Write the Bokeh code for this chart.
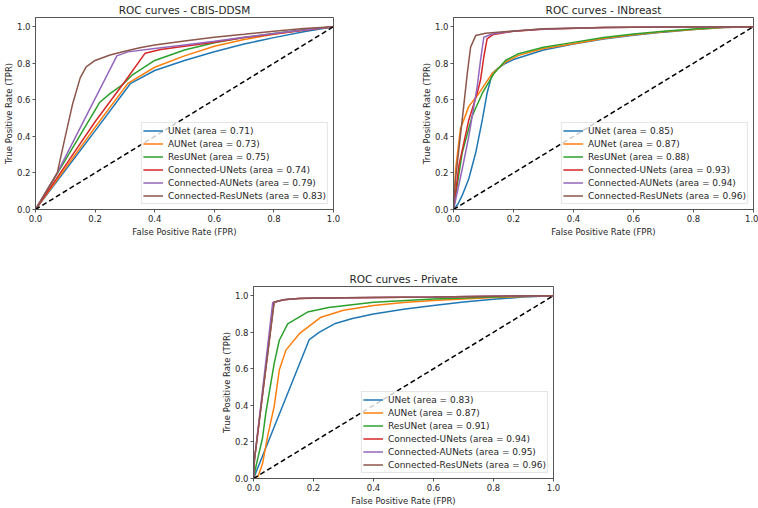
from bokeh.plotting import figure
from bokeh.layouts import column, row
from bokeh.models import Spacer, Legend, LegendItem, Range1d, FixedTicker, PrintfTickFormatter
from bokeh.embed import file_html
from bokeh.resources import INLINE

MODELS = ["UNet", "AUNet", "ResUNet", "Connected-UNets", "Connected-AUNets", "Connected-ResUNets"]
COLORS = ["#1f77b4", "#ff7f0e", "#2ca02c", "#d62728", "#9467bd", "#8c564b"]
TICKS = [0.0, 0.2, 0.4, 0.6, 0.8, 1.0]

# ---------------- CBIS-DDSM ----------------
cbis_auc = [0.71, 0.73, 0.75, 0.74, 0.79, 0.83]
cbis_unet_fpr = [0, 0.1, 0.2, 0.318, 0.4, 0.5, 0.6, 0.7, 0.8, 0.9, 1.0]
cbis_unet_tpr = [0, 0.215, 0.43, 0.688, 0.76, 0.815, 0.863, 0.905, 0.94, 0.972, 1.0]
cbis_aunet_fpr = [0, 0.1, 0.2, 0.31, 0.4, 0.5, 0.6, 0.7, 0.8, 0.9, 1.0]
cbis_aunet_tpr = [0, 0.225, 0.45, 0.69, 0.778, 0.84, 0.893, 0.93, 0.958, 0.982, 1.0]
cbis_resunet_fpr = [0, 0.1, 0.215, 0.25, 0.29, 0.323, 0.4, 0.5, 0.6, 0.7, 0.8, 0.9, 1.0]
cbis_resunet_tpr = [0, 0.27, 0.585, 0.634, 0.68, 0.733, 0.815, 0.872, 0.912, 0.94, 0.963, 0.983, 1.0]
cbis_cunets_fpr = [0, 0.1, 0.2, 0.3, 0.368, 0.42, 0.5, 0.6, 0.7, 0.8, 0.9, 1.0]
cbis_cunets_tpr = [0, 0.24, 0.48, 0.70, 0.855, 0.875, 0.893, 0.915, 0.94, 0.96, 0.98, 1.0]
cbis_caunets_fpr = [0, 0.073, 0.273, 0.31, 0.4, 0.5, 0.6, 0.7, 0.8, 0.9, 1.0]
cbis_caunets_tpr = [0, 0.2, 0.84, 0.862, 0.88, 0.9, 0.92, 0.942, 0.962, 0.982, 1.0]
cbis_cresunets_fpr = [0, 0.073, 0.1, 0.125, 0.15, 0.17, 0.2, 0.25, 0.3, 0.35, 0.4, 0.5, 0.6, 0.7, 0.8, 0.9, 1.0]
cbis_cresunets_tpr = [0, 0.2, 0.4, 0.58, 0.72, 0.78, 0.815, 0.845, 0.865, 0.885, 0.9, 0.922, 0.942, 0.958, 0.975, 0.99, 1.0]

# ---------------- INbreast ----------------
inb_auc = [0.85, 0.87, 0.88, 0.93, 0.94, 0.96]
inb_unet_fpr = [0, 0.015, 0.029, 0.051, 0.074, 0.096, 0.112, 0.129, 0.15, 0.174, 0.2, 0.3, 0.4, 0.5, 0.6, 0.7, 0.8, 0.9, 1.0]
inb_unet_tpr = [0, 0.03, 0.077, 0.168, 0.31, 0.49, 0.636, 0.744, 0.775, 0.80, 0.82, 0.872, 0.905, 0.932, 0.953, 0.97, 0.984, 0.995, 1.0]
inb_aunet_fpr = [0, 0.007, 0.023, 0.051, 0.085, 0.129, 0.174, 0.217, 0.3, 0.4, 0.5, 0.6, 0.7, 0.8, 0.9, 1.0]
inb_aunet_tpr = [0, 0.22, 0.44, 0.564, 0.636, 0.744, 0.807, 0.843, 0.88, 0.907, 0.935, 0.955, 0.972, 0.985, 0.995, 1.0]
inb_resunet_fpr = [0, 0.029, 0.062, 0.096, 0.135, 0.174, 0.217, 0.3, 0.4, 0.5, 0.6, 0.7, 0.8, 0.9, 1.0]
inb_resunet_tpr = [0, 0.31, 0.51, 0.636, 0.744, 0.816, 0.852, 0.887, 0.914, 0.94, 0.96, 0.975, 0.987, 0.996, 1.0]
inb_cunets_fpr = [0, 0.018, 0.051, 0.079, 0.09, 0.101, 0.112, 0.13, 0.2, 0.3, 0.5, 0.7, 1.0]
inb_cunets_tpr = [0, 0.24, 0.49, 0.636, 0.708, 0.834, 0.933, 0.955, 0.975, 0.986, 0.995, 0.998, 1.0]
inb_caunets_fpr = [0, 0.029, 0.051, 0.079, 0.09, 0.101, 0.129, 0.2, 0.3, 0.5, 0.7, 1.0]
inb_caunets_tpr = [0, 0.22, 0.40, 0.672, 0.816, 0.942, 0.96, 0.976, 0.987, 0.995, 0.998, 1.0]
inb_cresunets_fpr = [0, 0.007, 0.029, 0.046, 0.057, 0.074, 0.107, 0.217, 0.3, 0.5, 0.7, 1.0]
inb_cresunets_tpr = [0, 0.17, 0.49, 0.744, 0.888, 0.951, 0.964, 0.978, 0.988, 0.995, 0.998, 1.0]

# ---------------- Private ----------------
prv_auc = [0.83, 0.87, 0.91, 0.94, 0.95, 0.96]
prv_unet_fpr = [0, 0.186, 0.22, 0.27, 0.33, 0.4, 0.5, 0.6, 0.7, 0.8, 0.9, 1.0]
prv_unet_tpr = [0, 0.76, 0.8, 0.846, 0.875, 0.9, 0.925, 0.946, 0.965, 0.98, 0.992, 1.0]
prv_aunet_fpr = [0, 0.015, 0.03, 0.047, 0.069, 0.086, 0.108, 0.153, 0.225, 0.3, 0.4, 0.5, 0.6, 0.8, 1.0]
prv_aunet_tpr = [0, 0.01, 0.08, 0.23, 0.394, 0.593, 0.702, 0.792, 0.882, 0.92, 0.946, 0.962, 0.973, 0.99, 1.0]
prv_resunet_fpr = [0, 0.01, 0.03, 0.041, 0.069, 0.086, 0.114, 0.18, 0.25, 0.4, 0.6, 0.8, 1.0]
prv_resunet_tpr = [0, 0.08, 0.22, 0.358, 0.63, 0.756, 0.846, 0.91, 0.935, 0.964, 0.982, 0.993, 1.0]
prv_cunets_fpr = [0, 0.003, 0.068, 0.1, 0.15, 0.2, 0.4, 0.6, 0.8, 1.0]
prv_cunets_tpr = [0, 0.1, 0.962, 0.977, 0.984, 0.986, 0.99, 0.993, 0.997, 1.0]
prv_caunets_fpr = [0, 0.003, 0.064, 0.1, 0.15, 0.2, 0.4, 0.6, 0.8, 1.0]
prv_caunets_tpr = [0, 0.1, 0.962, 0.978, 0.985, 0.987, 0.99, 0.993, 0.997, 1.0]
prv_cresunets_fpr = [0, 0.003, 0.069, 0.1, 0.15, 0.2, 0.4, 0.6, 0.8, 1.0]
prv_cresunets_tpr = [0, 0.1, 0.965, 0.978, 0.985, 0.987, 0.99, 0.993, 0.997, 1.0]

FONT = "DejaVu Sans"
TXT = "#262626"
SPINE = "#555555"


def make(title, curves, aucs, width, height, bl, br, bt, bb):
    p = figure(width=width, height=height, x_range=Range1d(0, 1), y_range=Range1d(0, 1.05),
               output_backend="svg", toolbar_location=None, title=title,
               min_border_left=bl, min_border_right=br, min_border_top=bt, min_border_bottom=bb)
    p.title.text_font = FONT
    p.title.text_font_size = "10.5px"
    p.title.text_font_style = "normal"
    p.title.text_color = TXT
    p.title.align = "center"
    p.title.standoff = 3
    p.title.offset = 0
    p.grid.visible = False
    p.outline_line_color = SPINE
    p.outline_line_width = 1
    p.outline_line_alpha = 1
    p.background_fill_color = "white"
    p.border_fill_color = "white"
    for ax in (p.xaxis[0], p.yaxis[0]):
        ax.ticker = FixedTicker(ticks=TICKS)
        ax.formatter = PrintfTickFormatter(format="%.1f")
        ax.major_label_text_font = FONT
        ax.major_label_text_font_size = "8.5px"
        ax.major_label_text_color = TXT
        ax.axis_label_text_font = FONT
        ax.axis_label_text_font_size = "8.5px"
        ax.axis_label_text_font_style = "normal"
        ax.axis_label_text_color = TXT
        ax.axis_line_color = SPINE
        ax.major_tick_line_color = SPINE
        ax.major_tick_out = 3
        ax.major_tick_in = 0
        ax.minor_tick_line_color = None
        ax.major_label_standoff = 2
        ax.axis_label_standoff = 2
    p.yaxis[0].axis_label_standoff = 0
    p.xaxis[0].axis_label = "False Positive Rate (FPR)"
    p.yaxis[0].axis_label = "True Positive Rate (TPR)"

    items = []
    for i, (fx, ty) in enumerate(curves):
        r = p.line(fx, ty, line_color=COLORS[i], line_width=1.5)
        items.append(LegendItem(label=f"{MODELS[i]} (area = {aucs[i]:.2f})", renderers=[r]))
    p.line([0, 1], [0, 1], line_color="black", line_dash="5 3", line_width=1.5)

    legend = Legend(items=items, location="bottom_right", margin=5, padding=1, spacing=0,
                    label_height=13, glyph_height=13, glyph_width=20, label_standoff=5,
                    label_text_font=FONT, label_text_font_size="9px", label_text_color=TXT,
                    border_line_color="#cccccc", border_line_width=1,
                    background_fill_color="white", background_fill_alpha=0.8)
    p.add_layout(legend)
    return p


p1 = make("ROC curves - CBIS-DDSM",
          [(cbis_unet_fpr, cbis_unet_tpr), (cbis_aunet_fpr, cbis_aunet_tpr),
           (cbis_resunet_fpr, cbis_resunet_tpr), (cbis_cunets_fpr, cbis_cunets_tpr),
           (cbis_caunets_fpr, cbis_caunets_tpr), (cbis_cresunets_fpr, cbis_cresunets_tpr)],
          cbis_auc, 340, 240, 33, 7, 15, 31)
p2 = make("ROC curves - INbreast",
          [(inb_unet_fpr, inb_unet_tpr), (inb_aunet_fpr, inb_aunet_tpr),
           (inb_resunet_fpr, inb_resunet_tpr), (inb_cunets_fpr, inb_cunets_tpr),
           (inb_caunets_fpr, inb_caunets_tpr), (inb_cresunets_fpr, inb_cresunets_tpr)],
          inb_auc, 418, 240, 113, 5, 15, 31)
p3 = make("ROC curves - Private",
          [(prv_unet_fpr, prv_unet_tpr), (prv_aunet_fpr, prv_aunet_tpr),
           (prv_resunet_fpr, prv_resunet_tpr), (prv_cunets_fpr, prv_cunets_tpr),
           (prv_caunets_fpr, prv_caunets_tpr), (prv_cresunets_fpr, prv_cresunets_tpr)],
          prv_auc, 362, 258, 53, 9, 36, 28)

layout = column(
    row(p1, p2, spacing=0),
    row(Spacer(width=200, height=258), p3, spacing=0),
    spacing=10,
)

open("out.html", "w").write(file_html(layout, INLINE))
